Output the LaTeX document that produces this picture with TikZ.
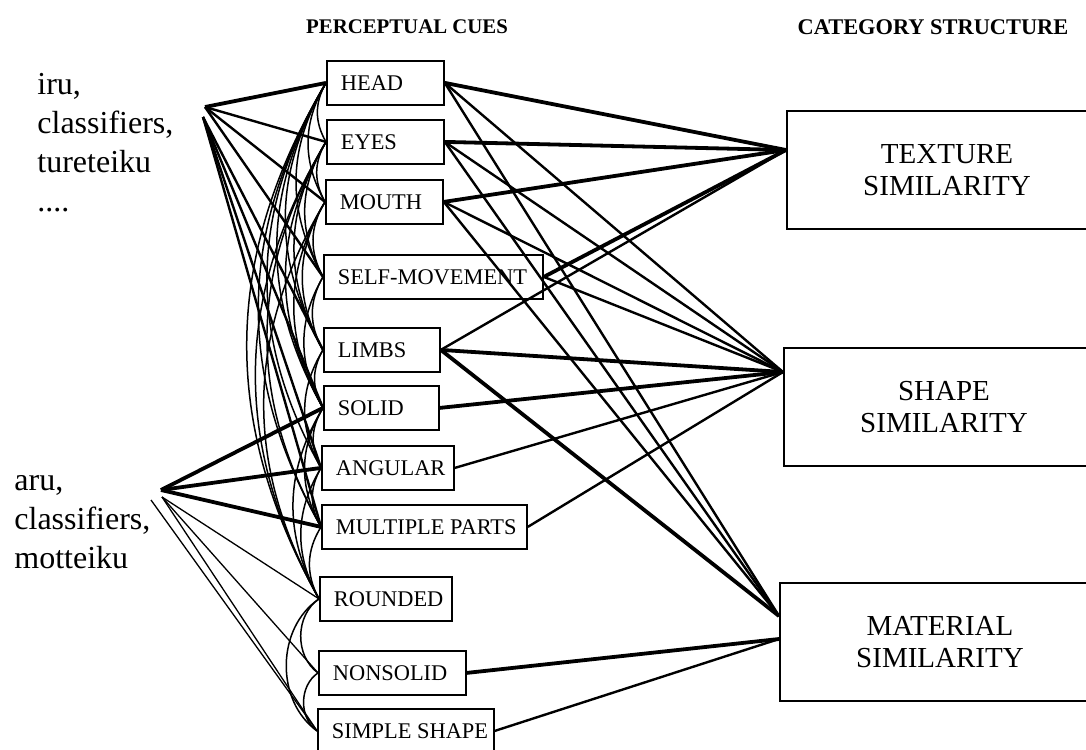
\documentclass[tikz,border=0pt]{standalone}
\usepackage{fontspec}
\setmainfont{Liberation Serif}
\newcommand{\cuelabel}[2]{\makebox[#1][l]{#2}}
\tikzset{
cuebox/.style={draw,line width=0.9pt,anchor=north west,minimum height=22pt,inner xsep=7pt,inner ysep=0pt,font=\fontsize{11.2}{13}\selectfont},
catbox/.style={draw,line width=1pt,anchor=north west,minimum width=160pt,minimum height=59pt,align=center,font=\fontsize{14.5}{16}\selectfont},
header/.style={font=\fontsize{10.4}{12}\selectfont\bfseries},
wordlist/.style={anchor=north west,inner sep=0pt,align=left,font=\fontsize{16}{19.5}\selectfont},
heavylink/.style={line width=1.9pt},
midlink/.style={line width=1.2pt},
lightlink/.style={line width=0.65pt},
arcline/.style={line width=0.75pt,bend right=#1},
arcline/.default=30
}
\begin{document}
\begin{tikzpicture}[x=0.5pt,y=-0.5pt]
\useasboundingbox (0,0) rectangle (1086,749);
% headings
\node[header] (cuehead) at (407,27) {PERCEPTUAL CUES};
\node[header,font=\fontsize{11.2}{13}\selectfont\bfseries] (cathead) at (933,27) {CATEGORY STRUCTURE};
% word lists
\node[wordlist] (iru) at (37,73) {iru,\\classifiers,\\tureteiku\\....};
\node[wordlist] (aru) at (14,475) {aru,\\classifiers,\\motteiku};
\coordinate (iruhub) at (205,107);
\coordinate (iruhubb) at (203,117);
\coordinate (aruhub) at (161,490);
\coordinate (aruhubb) at (162,497);
\coordinate (aruhubc) at (151,500);
% perceptual cues
\node[cuebox] (head) at (326,60) {\cuelabel{44.5pt}{HEAD}};
\node[cuebox] (eyes) at (326,119) {\cuelabel{44.5pt}{EYES}};
\node[cuebox] (mouth) at (325,179) {\cuelabel{44.5pt}{MOUTH}};
\node[cuebox] (selfmove) at (323,254) {\cuelabel{95.5pt}{SELF-MOVEMENT}};
\node[cuebox] (limbs) at (323,327) {\cuelabel{44pt}{LIMBS}};
\node[cuebox] (solid) at (323,385) {\cuelabel{43.5pt}{SOLID}};
\node[cuebox] (angular) at (321,445) {\cuelabel{52pt}{ANGULAR}};
\node[cuebox] (multi) at (321,504) {\cuelabel{88.5pt}{MULTIPLE PARTS}};
\node[cuebox] (rounded) at (319,576) {\cuelabel{52pt}{ROUNDED}};
\node[cuebox] (nonsolid) at (318,650) {\cuelabel{59.5pt}{NONSOLID}};
\node[cuebox] (simple) at (317,708) {\cuelabel{74pt}{SIMPLE SHAPE}};
% category structure
\node[catbox] (texture) at (786,110) {TEXTURE\\SIMILARITY};
\node[catbox] (shape) at (783,347) {SHAPE\\SIMILARITY};
\node[catbox] (material) at (779,582) {MATERIAL\\SIMILARITY};
\coordinate (tin) at ([yshift=-20pt]texture.north west);
\coordinate (sin) at ([yshift=-12.5pt]shape.north west);
\coordinate (min) at ([yshift=-17pt]material.north west);
\coordinate (minb) at ([yshift=-28.5pt]material.north west);
% word lists to cues
\draw[heavylink] (iruhub) -- (head.west);
\foreach \c in {eyes,mouth,selfmove}
  \draw[midlink] (iruhub) -- (\c.west);
\foreach \c in {limbs,solid,angular,multi}
  \draw[midlink] (iruhubb) -- (\c.west);
\foreach \c in {solid,angular,multi}
  \draw[heavylink] (aruhub) -- (\c.west);
\foreach \c in {rounded,nonsolid,simple}
  \draw[lightlink] (aruhubb) -- (\c.west);
\draw[lightlink] (aruhubc) -- (simple.west);
% links among cues
\foreach \a/\b in {head/eyes,head/mouth,head/selfmove,head/limbs,head/solid,head/angular,head/multi,head/rounded,
  eyes/mouth,eyes/selfmove,eyes/limbs,eyes/solid,eyes/multi,eyes/rounded,
  mouth/selfmove,mouth/limbs,mouth/solid,mouth/rounded,selfmove/limbs,selfmove/solid,
  limbs/solid,limbs/angular,solid/angular,solid/multi,solid/rounded,
  angular/multi,angular/rounded,multi/rounded}
  \draw[arcline] (\a.west) to (\b.west);
\foreach \a/\b in {rounded/nonsolid,rounded/simple,nonsolid/simple}
  \draw[arcline=55] (\a.west) to (\b.west);
% cues to categories
\foreach \c/\t in {head/tin,eyes/tin,mouth/tin,selfmove/tin,limbs/sin,solid/sin,limbs/min,nonsolid/minb}
  \draw[heavylink] (\c.east) -- (\t);
\foreach \c/\t in {head/sin,head/min,eyes/sin,eyes/min,mouth/sin,mouth/min,selfmove/sin,limbs/tin,angular/sin,multi/sin,simple/minb}
  \draw[midlink] (\c.east) -- (\t);
\end{tikzpicture}
\end{document}
